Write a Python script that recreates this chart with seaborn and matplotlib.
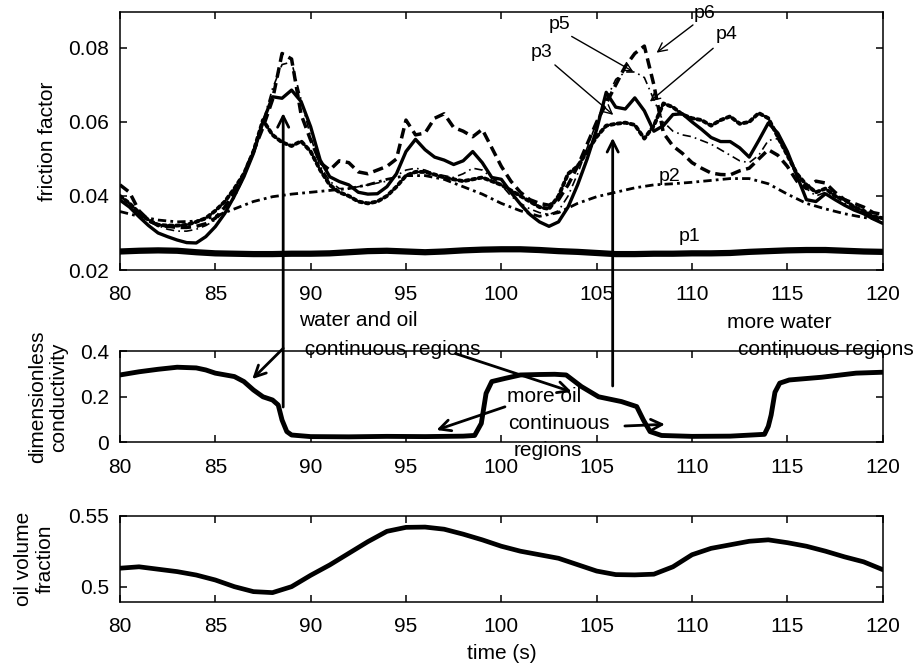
import numpy as np
import matplotlib
matplotlib.use("Agg")
import matplotlib.pyplot as plt
import seaborn as sns

# ---- data ----
t_half = np.arange(80, 120.01, 0.5)
t_one = np.arange(80, 120.01, 1.0)

p1 = [0.0250, 0.0252, 0.0253, 0.0252, 0.0248, 0.0245, 0.0244, 0.0243, 0.0243, 0.0244,
      0.0244, 0.0245, 0.0248, 0.0251, 0.0252, 0.0250, 0.0248, 0.0250, 0.0253, 0.0255,
      0.0256, 0.0256, 0.0254, 0.0251, 0.0249, 0.0246, 0.0243, 0.0243, 0.0244, 0.0244,
      0.0245, 0.0245, 0.0246, 0.0249, 0.0251, 0.0253, 0.0254, 0.0254, 0.0252, 0.0250,
      0.0249]

p2 = [0.0358, 0.0345, 0.0335, 0.0330, 0.0332, 0.0345, 0.0365, 0.0385, 0.0398, 0.0405,
      0.0410, 0.0415, 0.0420, 0.0430, 0.0445, 0.0455, 0.0455, 0.0445, 0.0425, 0.0405,
      0.0380, 0.0360, 0.0345, 0.0355, 0.0380, 0.0398, 0.0410, 0.0422, 0.0430, 0.0433,
      0.0437, 0.0442, 0.0447, 0.0447, 0.0433, 0.0405, 0.0380, 0.0365, 0.0352, 0.0342,
      0.0335]

p3 = [0.0389, 0.0370, 0.0344, 0.0320, 0.0300, 0.0290, 0.0281, 0.0274, 0.0273, 0.0290,
      0.0317, 0.0353, 0.0400, 0.0452, 0.0515, 0.0600, 0.0668, 0.0664, 0.0686, 0.0655,
      0.0587, 0.0497, 0.0452, 0.0439, 0.0430, 0.0410, 0.0405, 0.0406, 0.0425, 0.0460,
      0.0520, 0.0553, 0.0525, 0.0505, 0.0497, 0.0485, 0.0495, 0.0520, 0.0490, 0.0450,
      0.0445, 0.0410, 0.0378, 0.0350, 0.0330, 0.0318, 0.0330, 0.0370, 0.0430, 0.0500,
      0.0580, 0.0680, 0.0640, 0.0635, 0.0665, 0.0630, 0.0575, 0.0590, 0.0620, 0.0622,
      0.0600, 0.0580, 0.0558, 0.0547, 0.0547, 0.0530, 0.0505, 0.0550, 0.0597, 0.0570,
      0.0520, 0.0455, 0.0390, 0.0385, 0.0406, 0.0390, 0.0375, 0.0362, 0.0352, 0.0338,
      0.0326]

p4 = [0.0400, 0.0380, 0.0355, 0.0335, 0.0322, 0.0320, 0.0320, 0.0322, 0.0330, 0.0340,
      0.0360, 0.0385, 0.0420, 0.0460, 0.0520, 0.0605, 0.0565, 0.0545, 0.0535, 0.0548,
      0.0520, 0.0470, 0.0430, 0.0410, 0.0400, 0.0385, 0.0380, 0.0385, 0.0400, 0.0425,
      0.0455, 0.0465, 0.0465, 0.0458, 0.0450, 0.0445, 0.0440, 0.0445, 0.0450, 0.0440,
      0.0430, 0.0415, 0.0400, 0.0385, 0.0370, 0.0365, 0.0400, 0.0460, 0.0480, 0.0520,
      0.0560, 0.0590, 0.0595, 0.0598, 0.0592, 0.0555, 0.0590, 0.0650, 0.0640, 0.0620,
      0.0610, 0.0605, 0.0590, 0.0605, 0.0615, 0.0595, 0.0600, 0.0624, 0.0610, 0.0560,
      0.0510, 0.0460, 0.0430, 0.0410, 0.0420, 0.0400, 0.0390, 0.0370, 0.0360, 0.0345,
      0.0340]

p5 = [0.0390, 0.0370, 0.0350, 0.0330, 0.0320, 0.0310, 0.0305, 0.0305, 0.0310, 0.0320,
      0.0335, 0.0360, 0.0395, 0.0450, 0.0520, 0.0600, 0.0690, 0.0755, 0.0762, 0.0660,
      0.0560, 0.0480, 0.0440, 0.0420, 0.0420, 0.0425, 0.0430, 0.0435, 0.0440, 0.0455,
      0.0470, 0.0475, 0.0470, 0.0460, 0.0455, 0.0450, 0.0460, 0.0475, 0.0470, 0.0450,
      0.0430, 0.0400, 0.0380, 0.0365, 0.0355, 0.0350, 0.0360, 0.0400, 0.0460, 0.0530,
      0.0600, 0.0660, 0.0715, 0.0735, 0.0735, 0.0720, 0.0660, 0.0600, 0.0575, 0.0565,
      0.0560, 0.0550, 0.0540, 0.0525, 0.0510, 0.0495, 0.0490, 0.0510, 0.0550, 0.0555,
      0.0510, 0.0460, 0.0420, 0.0400, 0.0410, 0.0400, 0.0380, 0.0370, 0.0355, 0.0345,
      0.0335]

p6 = [0.0430, 0.0410, 0.0360, 0.0335, 0.0320, 0.0318, 0.0315, 0.0315, 0.0318, 0.0325,
      0.0340, 0.0370, 0.0410, 0.0460, 0.0520, 0.0585, 0.0660, 0.0785, 0.0770, 0.0620,
      0.0551, 0.0490, 0.0470, 0.0495, 0.0490, 0.0465, 0.0460, 0.0470, 0.0480, 0.0500,
      0.0605, 0.0565, 0.0570, 0.0610, 0.0622, 0.0585, 0.0575, 0.0560, 0.0580, 0.0530,
      0.0480, 0.0440, 0.0410, 0.0390, 0.0380, 0.0375, 0.0390, 0.0430, 0.0480, 0.0540,
      0.0600, 0.0650, 0.0700, 0.0750, 0.0785, 0.0805, 0.0700, 0.0570, 0.0535, 0.0515,
      0.0490, 0.0475, 0.0462, 0.0458, 0.0457, 0.0468, 0.0475, 0.0500, 0.0525, 0.0510,
      0.0480, 0.0440, 0.0420, 0.0440, 0.0435, 0.0410, 0.0390, 0.0380, 0.0370, 0.0355,
      0.0350]

cond_t = [80, 81, 82, 83, 84, 84.5, 85, 86, 86.5, 87, 87.5, 88, 88.3, 88.5, 88.75, 89,
          90, 92, 94, 96, 98, 98.6, 98.95, 99.2, 99.5, 100.2, 101, 102, 102.8, 103.4,
          104.2, 105.1, 106.3, 107.1, 107.45, 107.8, 108.4, 110, 112, 113.8, 114.0,
          114.15, 114.35, 114.6, 115.1, 116.8, 118.6, 120]
cond = [0.296, 0.310, 0.321, 0.330, 0.327, 0.318, 0.304, 0.289, 0.267, 0.230, 0.200,
        0.186, 0.164, 0.098, 0.047, 0.032, 0.025, 0.024, 0.026, 0.025, 0.027, 0.030,
        0.083, 0.215, 0.267, 0.281, 0.296, 0.298, 0.299, 0.296, 0.245, 0.200, 0.179,
        0.157, 0.098, 0.047, 0.030, 0.026, 0.027, 0.035, 0.070, 0.120, 0.220, 0.260,
        0.274, 0.286, 0.304, 0.308]

oil = [0.5130, 0.5140, 0.5123, 0.5106, 0.5082, 0.5047, 0.5000, 0.4965, 0.4958, 0.5000,
       0.5080, 0.5153, 0.5235, 0.5317, 0.5390, 0.5418, 0.5420, 0.5405, 0.5370, 0.5330,
       0.5285, 0.5250, 0.5225, 0.5200, 0.5155, 0.5110, 0.5085, 0.5083, 0.5088, 0.5140,
       0.5225, 0.5270, 0.5295, 0.5320, 0.5330, 0.5310, 0.5285, 0.5250, 0.5210, 0.5175,
       0.5120]

xticks = [80, 85, 90, 95, 100, 105, 110, 115, 120]

# ---- style ----
sns.set_style("ticks")
plt.rcParams["font.family"] = ["Liberation Sans", "DejaVu Sans"]
plt.rcParams["font.size"] = 15
plt.rcParams["axes.linewidth"] = 1.1
for key in ["text.color", "axes.labelcolor", "axes.edgecolor", "xtick.color", "ytick.color"]:
    plt.rcParams[key] = "black"

fig = plt.figure(figsize=(9.15, 6.67), dpi=100)
ax1 = fig.add_axes([0.1311, 0.5952, 0.8336, 0.3868])
ax2 = fig.add_axes([0.1311, 0.3369, 0.8336, 0.1364])
ax3 = fig.add_axes([0.1311, 0.0979, 0.8336, 0.1289])

for ax in (ax1, ax2, ax3):
    ax.set_facecolor("none")
    ax.tick_params(direction="in", top=True, right=True, length=5, width=1.1,
                   labelsize=15, colors="black")
    ax.tick_params(axis="x", pad=11)
    ax.tick_params(axis="y", pad=8)
    ax.set_xlim(80, 120)
    ax.set_xticks(xticks)
    ax.set_xticklabels([str(v) for v in xticks])
    for s in ax.spines.values():
        s.set_visible(True)
        s.set_color("black")

# top panel: friction factor
sns.lineplot(x=t_one, y=p1, ax=ax1, color="black", lw=4.5)
sns.lineplot(x=t_one, y=p2, ax=ax1, color="black", lw=2.0, linestyle=(0, (3, 1.5, 1, 1.5)))
sns.lineplot(x=t_half, y=p4, ax=ax1, color="black", lw=2.8, linestyle=(0, (0.8, 0.9)),
             dash_capstyle="round")
sns.lineplot(x=t_half, y=p5, ax=ax1, color="black", lw=1.2, linestyle=(0, (5, 2.5, 1, 2.5)))
sns.lineplot(x=t_half, y=p6, ax=ax1, color="black", lw=2.5, linestyle=(0, (3, 1.6)))
sns.lineplot(x=t_half, y=p3, ax=ax1, color="black", lw=2.4)
ax1.set_ylim(0.02, 0.0897)
ax1.set_yticks([0.02, 0.04, 0.06, 0.08])
ax1.set_yticklabels(["0.02", "0.04", "0.06", "0.08"])
ax1.set_ylabel("friction factor", fontsize=15)
ax1.yaxis.set_label_coords(-0.083, 0.5)

# middle panel: conductivity
sns.lineplot(x=cond_t, y=cond, ax=ax2, color="black", lw=3.5)
ax2.set_ylim(0, 0.4)
ax2.set_yticks([0, 0.2, 0.4])
ax2.set_yticklabels(["0", "0.2", "0.4"])
ax2.set_ylabel("dimensionless\nconductivity", fontsize=15, linespacing=1.15)
ax2.yaxis.set_label_coords(-0.068, 0.5)

# bottom panel: oil volume fraction
sns.lineplot(x=t_one, y=oil, ax=ax3, color="black", lw=3.4)
ax3.set_ylim(0.4894, 0.55)
ax3.set_yticks([0.5, 0.55])
ax3.set_yticklabels(["0.5", "0.55"])
ax3.set_ylabel("oil volume\nfraction", fontsize=15, linespacing=1.15)
ax3.yaxis.set_label_coords(-0.086, 0.5)
ax3.set_xlabel("time (s)", fontsize=15, labelpad=6)

# ---- annotations ----
big = dict(arrowstyle="->", color="black", lw=2.0, mutation_scale=20,
           shrinkA=0, shrinkB=0)
thin = dict(arrowstyle="->", color="black", lw=1.0, mutation_scale=16,
            shrinkA=0, shrinkB=0)

# long vertical arrows from conductivity up to friction peaks
ax1.annotate("", xy=(88.56, 0.0624), xycoords=ax1.transData,
             xytext=(88.56, 0.155), textcoords=ax2.transData,
             arrowprops=big, annotation_clip=False)
ax1.annotate("", xy=(105.84, 0.0557), xycoords=ax1.transData,
             xytext=(105.84, 0.2475), textcoords=ax2.transData,
             arrowprops=big, annotation_clip=False)

# arrows in the conductivity panel
ax2.annotate("", xy=(86.94, 0.278), xytext=(88.56, 0.413),
             arrowprops=big, annotation_clip=False)
ax2.annotate("", xy=(103.69, 0.222), xytext=(97.6, 0.39),
             arrowprops=big, annotation_clip=False)
ax2.annotate("", xy=(96.6, 0.054), xytext=(100.19, 0.156),
             arrowprops=big, annotation_clip=False)
ax2.annotate("", xy=(108.58, 0.079), xytext=(106.48, 0.0717),
             arrowprops=big, annotation_clip=False)

fig.text(0.3268, 0.5192, "water and oil", fontsize=15, va="center")
fig.text(0.3268, 0.4753, " continuous regions", fontsize=15, va="center")
fig.text(0.7949, 0.5162, "more water", fontsize=15, va="center")
fig.text(0.8062, 0.4753, "continuous regions", fontsize=15, va="center")
fig.text(0.5537, 0.4052, "more oil", fontsize=15, va="center")
fig.text(0.5556, 0.3653, "continuous", fontsize=15, va="center")
fig.text(0.5610, 0.3243, "regions", fontsize=15, va="center")

# curve labels
ax1.text(102.11, 0.0787, "p3", fontsize=14, ha="center", va="center")
ax1.text(103.03, 0.0862, "p5", fontsize=14, ha="center", va="center")
ax1.text(110.68, 0.0893, "p6", fontsize=14, ha="center", va="center", clip_on=False)
ax1.text(111.81, 0.0835, "p4", fontsize=14, ha="center", va="center")
ax1.text(108.84, 0.0452, "p2", fontsize=14, ha="center", va="center")
ax1.text(109.89, 0.0290, "p1", fontsize=14, ha="center", va="center")

ax1.annotate("", xy=(105.87, 0.0619), xytext=(102.81, 0.0754), arrowprops=thin)
ax1.annotate("", xy=(106.92, 0.0736), xytext=(103.69, 0.0831), arrowprops=thin)
ax1.annotate("", xy=(108.14, 0.0787), xytext=(110.05, 0.0862), arrowprops=thin)
ax1.annotate("", xy=(107.79, 0.0655), xytext=(111.11, 0.0799), arrowprops=thin)

fig.savefig("out.png", dpi=100)
